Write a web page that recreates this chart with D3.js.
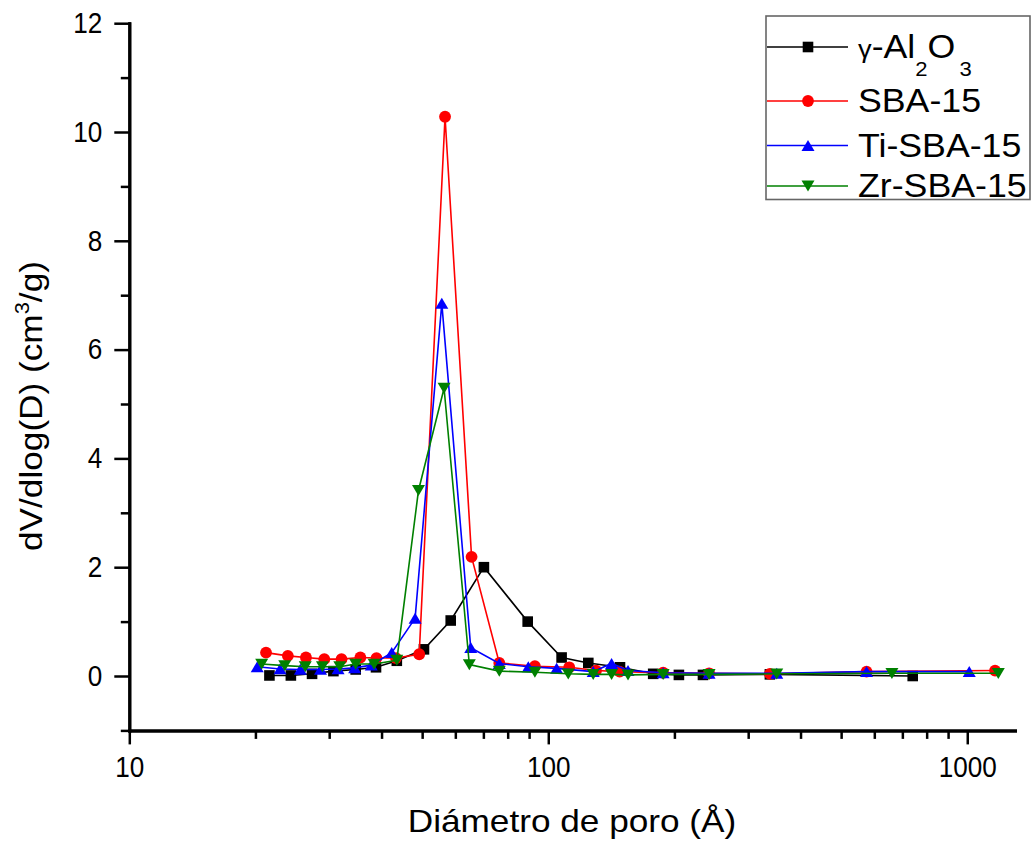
<!DOCTYPE html>
<html>
<head>
<meta charset="utf-8">
<script src="https://cdn.jsdelivr.net/npm/d3@7"></script>
<style>
    body { margin: 0; background: #fff; }
    svg { display: block; }
    text { font-family: "Liberation Sans", Arial, sans-serif; fill: #000; }
</style>
</head>
<body>
<div id="chart"></div>
<script>
// pore diameter (A) and dV/dlog(D) for every sample
var alD = [21.6, 24.3, 27.3, 30.7, 34.7, 38.8, 43.5, 50.5, 58.5, 70.2, 89.3, 107.6, 124.6, 148.3, 178, 205, 234, 338, 741];
var alV = [0.01, 0.01, 0.04, 0.09, 0.12, 0.16, 0.28, 0.49, 1.02, 2.0, 1.0, 0.34, 0.24, 0.16, 0.04, 0.02, 0.02, 0.03, 0.0];

var sbaD = [21.2, 23.9, 26.4, 29.2, 32.1, 35.6, 38.9, 43.3, 49.2, 56.7, 65.6, 76.4, 92.9, 112.2, 130, 148, 188, 242, 338, 575, 1165];
var sbaV = [0.43, 0.37, 0.34, 0.31, 0.31, 0.34, 0.33, 0.33, 0.40, 10.28, 2.19, 0.24, 0.18, 0.16, 0.1, 0.08, 0.06, 0.05, 0.04, 0.08, 0.1];

var tiD = [20.2, 22.9, 25.6, 28.6, 31.5, 34.5, 37.8, 42.3, 48.1, 55.7, 65.3, 76.4, 89.6, 104.7, 128, 141.6, 155, 188, 242, 351, 575, 1011];
var tiV = [0.17, 0.13, 0.12, 0.12, 0.13, 0.15, 0.2, 0.43, 1.06, 6.85, 0.52, 0.23, 0.17, 0.14, 0.08, 0.23, 0.1, 0.06, 0.05, 0.05, 0.08, 0.08];

var zrD = [20.7, 23.5, 26.3, 28.9, 31.8, 34.7, 38.4, 43.5, 49.0, 56.4, 64.8, 76.4, 92.9, 111.6, 128, 141.6, 155, 188, 242, 351, 661, 1186];
var zrV = [0.22, 0.19, 0.17, 0.17, 0.17, 0.22, 0.22, 0.29, 3.41, 5.29, 0.21, 0.09, 0.07, 0.04, 0.03, 0.03, 0.02, 0.03, 0.03, 0.04, 0.05, 0.05];

// ticks
var xMajor = [10, 100, 1000];
var xMinor = [20, 30, 40, 50, 60, 70, 80, 90, 200, 300, 400, 500, 600, 700, 800, 900];
var yMajor = [0, 2, 4, 6, 8, 10, 12];
var yMinor = [-1, 1, 3, 5, 7, 9, 11];

var series = [
    {name: "al", d: alD, v: alV, color: "#000000", shape: "square"},
    {name: "sba", d: sbaD, v: sbaV, color: "#ff0000", shape: "circle"},
    {name: "ti", d: tiD, v: tiV, color: "#0000ff", shape: "up"},
    {name: "zr", d: zrD, v: zrV, color: "#008000", shape: "down"}
];

var width = 1034, height = 841;
var labelScale = 0.9;   // tick labels are a bit narrower than plain Arial

var svg = d3.select("#chart").append("svg")
    .attr("width", width)
    .attr("height", height);

svg.append("rect").attr("width", width).attr("height", height).attr("fill", "#fff");

var x = d3.scaleLog().domain([10, 1300]).range([129.3, 1015]);
var y = d3.scaleLinear().domain([-1, 12]).range([730.4, 23.2]);

// marker shapes, centred on the point
function markerPath(shape) {
    if (shape === "square") return "M-5.3,-5.3H5.3V5.3H-5.3Z";
    if (shape === "up") return "M0,-5.6L6.5,5.4L-6.5,5.4Z";
    if (shape === "down") return "M0,5.6L6.5,-5.4L-6.5,-5.4Z";
    return d3.symbol().type(d3.symbolCircle).size(Math.PI * 5.9 * 5.9)();
}

var line = d3.line()
    .x(function(p) { return x(p[0]); })
    .y(function(p) { return y(p[1]); });

var plot = svg.append("g");

series.forEach(function(s) {
    var pts = d3.zip(s.d, s.v);
    var g = plot.append("g").attr("class", "series_" + s.name);
    g.append("path")
        .datum(pts)
        .attr("d", line)
        .attr("fill", "none")
        .attr("stroke", s.color)
        .attr("stroke-width", 1.6);
    g.selectAll("path.mk").data(pts)
        .enter()
        .append("path")
        .attr("class", "mk")
        .attr("d", markerPath(s.shape))
        .attr("transform", function(p) { return "translate(" + x(p[0]) + "," + y(p[1]) + ")"; })
        .attr("fill", s.color);
});

// axes - minor ticks first, then majors with labels
function styleAxis(g) {
    g.select(".domain").attr("stroke", "#000").attr("stroke-width", 3).attr("stroke-linecap", "square");
    g.selectAll(".tick line").attr("stroke", "#000").attr("stroke-width", 2.5);
    g.selectAll(".tick text")
        .style("font-size", "29px")
        .attr("fill", "#000")
        .attr("x", function() { return (+d3.select(this).attr("x") || 0) / labelScale; })
        .attr("transform", "scale(" + labelScale + ",1)");
}

svg.append("g")
    .attr("transform", "translate(0," + y(-1) + ")")
    .call(d3.axisBottom(x).tickValues(xMinor).tickSize(8.5).tickSizeOuter(0).tickFormat(""))
    .call(styleAxis);

svg.append("g")
    .attr("transform", "translate(0," + y(-1) + ")")
    .call(d3.axisBottom(x).tickValues(xMajor).tickSize(14).tickSizeOuter(0).tickPadding(12).tickFormat(d3.format("d")))
    .call(styleAxis);

svg.append("g")
    .attr("transform", "translate(" + x(10) + ",0)")
    .call(d3.axisLeft(y).tickValues(yMinor).tickSize(8.5).tickSizeOuter(0).tickFormat(""))
    .call(styleAxis);

svg.append("g")
    .attr("transform", "translate(" + x(10) + ",0)")
    .call(d3.axisLeft(y).tickValues(yMajor).tickSize(15).tickSizeOuter(0).tickPadding(12).tickFormat(d3.format("d")))
    .call(styleAxis);

// axis titles
svg.append("text")
    .attr("transform", "translate(572,832) scale(1.1,1)")
    .attr("text-anchor", "middle")
    .style("font-size", "32px")
    .text("Diámetro de poro (Å)");

var yTitle = svg.append("text")
    .attr("transform", "translate(42,406) rotate(-90) scale(1.1,1)")
    .attr("text-anchor", "middle")
    .style("font-size", "32px");
yTitle.append("tspan").text("dV/dlog(D) (cm");
yTitle.append("tspan").attr("dy", -13).style("font-size", "20px").text("3");
yTitle.append("tspan").attr("dy", 13).text("/g)");

// legend
var legend = svg.append("g");
legend.append("rect")
    .attr("x", 766).attr("y", 16)
    .attr("width", 264).attr("height", 183.5)
    .attr("fill", "#fff")
    .attr("stroke", "#666")
    .attr("stroke-width", 1.6);

var legendBase = [58, 112, 156.5, 197];

series.forEach(function(s, i) {
    var ly = legendBase[i] - 11;
    legend.append("line")
        .attr("x1", 767).attr("x2", 848)
        .attr("y1", ly).attr("y2", ly)
        .attr("stroke", s.color)
        .attr("stroke-width", 1.6);
    legend.append("path")
        .attr("d", markerPath(s.shape))
        .attr("transform", "translate(808," + ly + ")")
        .attr("fill", s.color);
});

var t0 = legend.append("text")
    .attr("transform", "translate(858," + legendBase[0] + ") scale(1.05,1)")
    .style("font-size", "34px");
t0.append("tspan").style("font-size", "26px").text("γ");
t0.append("tspan").text("-Al");
t0.append("tspan").attr("dy", 18).style("font-size", "21px").text("2");
t0.append("tspan").attr("dy", -18).text("O");
t0.append("tspan").attr("dy", 18).attr("dx", 4).style("font-size", "21px").text("3");

var labels = ["SBA-15", "Ti-SBA-15", "Zr-SBA-15"];
labels.forEach(function(l, i) {
    legend.append("text")
        .attr("transform", "translate(858," + legendBase[i + 1] + ") scale(1.05,1)")
        .style("font-size", "34px")
        .text(l);
});
</script>
</body>
</html>
